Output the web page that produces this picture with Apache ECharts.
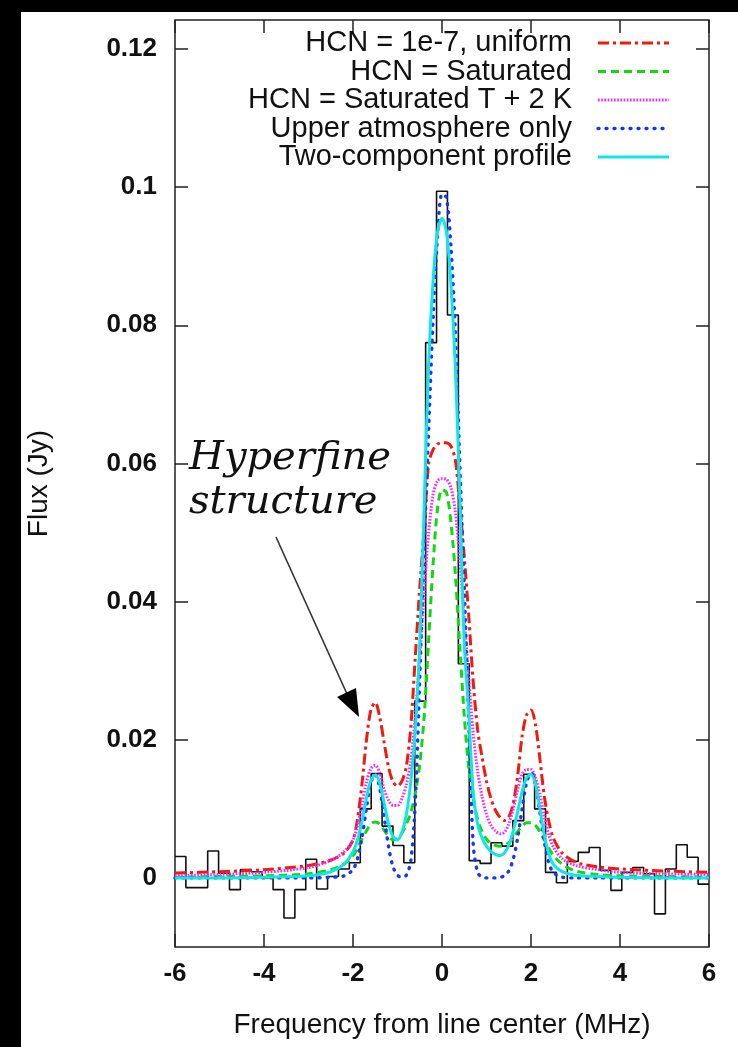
<!DOCTYPE html>
<html><head><meta charset="utf-8">
<script src="https://cdn.jsdelivr.net/npm/echarts@6/dist/echarts.min.js"></script>
<style>html,body{margin:0;padding:0;background:#fff}#c{width:738px;height:1047px}</style>
</head><body><div id="c"></div>
<script>
// Observed spectrum: channel centres (MHz) and flux (Jy)
const channelFreq = [-5.878,-5.633,-5.388,-5.143,-4.898,-4.653,-4.408,-4.163,-3.918,-3.673,-3.429,-3.184,-2.939,-2.694,-2.449,-2.204,-1.959,-1.714,-1.469,-1.224,-0.980,-0.735,-0.490,-0.245,0,0.245,0.490,0.735,0.980,1.224,1.469,1.714,1.959,2.204,2.449,2.694,2.939,3.184,3.429,3.673,3.918,4.163,4.408,4.653,4.898,5.143,5.388,5.633,5.878];
const observedFlux = [0.0031,-0.0014,-0.0014,0.0039,0.0007,-0.0017,0.0012,0.0009,0.0000,-0.0017,-0.0058,-0.0017,0.0027,-0.0016,0.0002,0.0013,0.0022,0.0100,0.0151,0.0075,0.0047,0.0022,0.0256,0.0775,0.0994,0.0815,0.0310,0.0025,0.0021,0.0051,0.0046,0.0083,0.0150,0.0100,0.0008,-0.0007,0.0024,0.0037,0.0044,0.0011,-0.0018,0.0008,0.0015,0.0006,-0.0052,0.0013,0.0048,0.0030,-0.0009];
const bandEdges = [-6, 6];

// Model curves sampled at these frequencies (MHz)
const modelFreq = [-6,-5,-4,-3,-2.5,-2.2,-2.0,-1.9,-1.8,-1.7,-1.6,-1.5,-1.4,-1.3,-1.2,-1.1,-1.0,-0.9,-0.8,-0.7,-0.6,-0.5,-0.4,-0.3,-0.2,-0.1,0,0.1,0.2,0.3,0.4,0.5,0.6,0.7,0.8,0.9,1.0,1.1,1.2,1.3,1.4,1.5,1.6,1.7,1.8,1.9,2.0,2.1,2.2,2.3,2.4,2.5,2.7,3.0,3.5,4,5,6];
const uniformModel = [0.0007,0.0009,0.0012,0.0018,0.0026,0.0036,0.0055,0.0085,0.0135,0.0198,0.0243,0.0254,0.0233,0.0196,0.0160,0.0139,0.0133,0.0140,0.0162,0.0220,0.0320,0.0420,0.0505,0.0600,0.0620,0.0628,0.0630,0.0630,0.0625,0.0605,0.0540,0.0465,0.0380,0.0285,0.0215,0.0175,0.0140,0.0115,0.0098,0.0088,0.0083,0.0088,0.0108,0.0148,0.0205,0.0236,0.0243,0.0222,0.0172,0.0118,0.0082,0.0058,0.0036,0.0023,0.0016,0.0013,0.0010,0.0008];
const saturatedModel = [0.0001,0.0002,0.0003,0.0006,0.0012,0.0020,0.0032,0.0043,0.0056,0.0068,0.0078,0.0081,0.0078,0.0069,0.0060,0.0055,0.0057,0.0065,0.0078,0.0095,0.0122,0.0165,0.0235,0.0345,0.0455,0.0535,0.0562,0.0558,0.0515,0.0440,0.0335,0.0235,0.0160,0.0115,0.0085,0.0067,0.0056,0.0050,0.0047,0.0046,0.0047,0.0051,0.0058,0.0067,0.0075,0.0080,0.0080,0.0076,0.0067,0.0055,0.0043,0.0033,0.0020,0.0010,0.0005,0.0003,0.0002,0.0001];
const saturatedT2Model = [0.0003,0.0005,0.0008,0.0015,0.0025,0.0038,0.0055,0.0075,0.0105,0.0138,0.0158,0.0163,0.0152,0.0128,0.0112,0.0105,0.0105,0.0115,0.0135,0.0170,0.0235,0.0320,0.0415,0.0500,0.0555,0.0575,0.0578,0.0577,0.0565,0.0530,0.0460,0.0375,0.0290,0.0210,0.0155,0.0118,0.0092,0.0076,0.0068,0.0064,0.0066,0.0078,0.0100,0.0128,0.0150,0.0157,0.0157,0.0145,0.0120,0.0088,0.0062,0.0045,0.0028,0.0018,0.0012,0.0008,0.0006,0.0005];
const upperOnlyModel = [0,0,0,0,0.0001,0.0003,0.0012,0.0028,0.0058,0.0100,0.0138,0.0150,0.0130,0.0088,0.0045,0.0016,0.0004,0.0001,0.0004,0.0025,0.0110,0.0290,0.0480,0.0650,0.0810,0.0930,0.0990,0.0985,0.0915,0.0790,0.0600,0.0420,0.0230,0.0050,0.0008,0.0001,0,0,0,0.0001,0.0003,0.0010,0.0027,0.0058,0.0100,0.0138,0.0152,0.0135,0.0095,0.0052,0.0022,0.0008,0.0001,0,0,0,0,0];
const twoComponentModel = [0,0,0.0001,0.0003,0.0009,0.0020,0.0038,0.0055,0.0082,0.0115,0.0141,0.0149,0.0137,0.0108,0.0078,0.0060,0.0055,0.0066,0.0092,0.0140,0.0215,0.0340,0.0540,0.0745,0.0865,0.0935,0.0955,0.0935,0.0860,0.0740,0.0550,0.0340,0.0240,0.0125,0.0078,0.0058,0.0046,0.0038,0.0034,0.0032,0.0036,0.0047,0.0068,0.0096,0.0125,0.0145,0.0150,0.0135,0.0100,0.0062,0.0035,0.0020,0.0009,0.0004,0.0002,0.0001,0,0];

const seriesNames = ['HCN = 1e-7, uniform','HCN = Saturated','HCN = Saturated T + 2 K','Upper atmosphere only','Two-component profile'];
const xTicks = [-6,-4,-2,0,2,4,6];
const yTicks = [0,0.02,0.04,0.06,0.08,0.1,0.12];
const xTitle = 'Frequency from line center (MHz)';
const yTitle = 'Flux (Jy)';
const noteLines = ['Hyperfine','structure'];

const styles = [
  {color:'#f01a10', width:3, dash:[11,4,3,4], cap:'butt'},
  {color:'#12d812', width:3, dash:[8,5], cap:'butt'},
  {color:'#ff22ff', width:3, dash:[1.6,1.6], cap:'butt'},
  {color:'#1838f0', width:3.4, dash:[1,7], cap:'round'},
  {color:'#10e6e6', width:3, dash:'solid', cap:'butt'}
];
const models = [uniformModel, saturatedModel, saturatedT2Model, upperOnlyModel, twoComponentModel];
const SANS = 'Liberation Sans';

const histData = [[bandEdges[0], observedFlux[0]]]
  .concat(channelFreq.map((f,i)=>[f, observedFlux[i]]))
  .concat([[bandEdges[1], observedFlux[observedFlux.length-1]]]);

const series = [{
  type:'line', name:'observed', data:histData, step:'middle', showSymbol:false,
  lineStyle:{color:'#111', width:1.6}, silent:true, z:2
}];
models.forEach((m,i)=>{
  series.push({
    type:'line', name:seriesNames[i], data:modelFreq.map((f,j)=>[f,m[j]]),
    showSymbol:false, smooth:0.3, silent:true, z:3+i,
    lineStyle:{color:styles[i].color, width:styles[i].width, type:styles[i].dash, cap:styles[i].cap}
  });
});

const chart = echarts.init(document.getElementById('c'), null, {renderer:'canvas'});
const tickStyle = {color:'#222', width:1.5};
const legendTop = 43, legendStep = 28.5;
const graphics = [
  {type:'rect', shape:{x:0,y:0,width:21,height:1047}, style:{fill:'#000'}, z:100},
  {type:'rect', shape:{x:0,y:0,width:738,height:12}, style:{fill:'#000'}, z:100}
];
seriesNames.forEach((n,i)=>{
  const y = legendTop + i*legendStep;
  graphics.push({type:'text', x:572, y:y, style:{text:n, fill:'#111', font:'29px "'+SANS+'"', textAlign:'right', textVerticalAlign:'middle'}, z:50});
  graphics.push({type:'line', shape:{x1:598,y1:y,x2:669,y2:y}, style:{stroke:styles[i].color, lineWidth:styles[i].width, lineDash: styles[i].dash==='solid'?null:styles[i].dash, lineCap:styles[i].cap}, z:50});
});
graphics.push({type:'text', x:189, y:459, style:{text:noteLines[0], fill:'#111', font:'italic 40px "DejaVu Serif"', textAlign:'left', textVerticalAlign:'middle'}, z:50});
graphics.push({type:'text', x:189, y:503, style:{text:noteLines[1], fill:'#111', font:'italic 40px "DejaVu Serif"', textAlign:'left', textVerticalAlign:'middle'}, z:50});
graphics.push({type:'line', shape:{x1:276,y1:537,x2:347,y2:694}, style:{stroke:'#333', lineWidth:1.6}, z:50});
graphics.push({type:'polygon', shape:{points:[[337,697],[356,688],[359,717]]}, style:{fill:'#000'}, z:50});

const hideLine = {show:false, onZero:false};
chart.setOption({
  animation:false,
  backgroundColor:'#fff',
  grid:{left:175, right:29, top:20, bottom:100, show:true, borderColor:'#222', borderWidth:1.5},
  xAxis:[{
    type:'value', min:xTicks[0], max:xTicks[xTicks.length-1], interval:2, position:'bottom',
    axisLine:hideLine, splitLine:{show:false},
    axisTick:{inside:true, length:13, lineStyle:tickStyle},
    axisLabel:{margin:14, fontSize:26, fontWeight:'bold', color:'#111', fontFamily:SANS, showMinLabel:true, showMaxLabel:true},
    name:xTitle, nameLocation:'middle', nameGap:64,
    nameTextStyle:{fontSize:28, color:'#111', fontFamily:SANS}
  },{
    type:'value', min:xTicks[0], max:xTicks[xTicks.length-1], interval:2, position:'top',
    axisLine:hideLine, splitLine:{show:false},
    axisTick:{inside:true, length:13, lineStyle:tickStyle}, axisLabel:{show:false}
  }],
  yAxis:[{
    type:'value', min:-0.01, max:0.1242, position:'left',
    axisLine:hideLine, splitLine:{show:false},
    axisTick:{inside:true, length:13, lineStyle:tickStyle, customValues:yTicks},
    axisLabel:{customValues:yTicks, margin:18, fontSize:26, fontWeight:'bold', color:'#111', fontFamily:SANS, formatter:v=>String(v)},
    name:yTitle, nameLocation:'middle', nameGap:122, nameRotate:90,
    nameTextStyle:{fontSize:28, color:'#111', fontFamily:SANS}
  },{
    type:'value', min:-0.01, max:0.1242, position:'right',
    axisLine:hideLine, splitLine:{show:false},
    axisTick:{inside:true, length:13, lineStyle:tickStyle, customValues:yTicks},
    axisLabel:{show:false}
  }],
  series:series,
  graphic:graphics
});
</script>
</body></html>
